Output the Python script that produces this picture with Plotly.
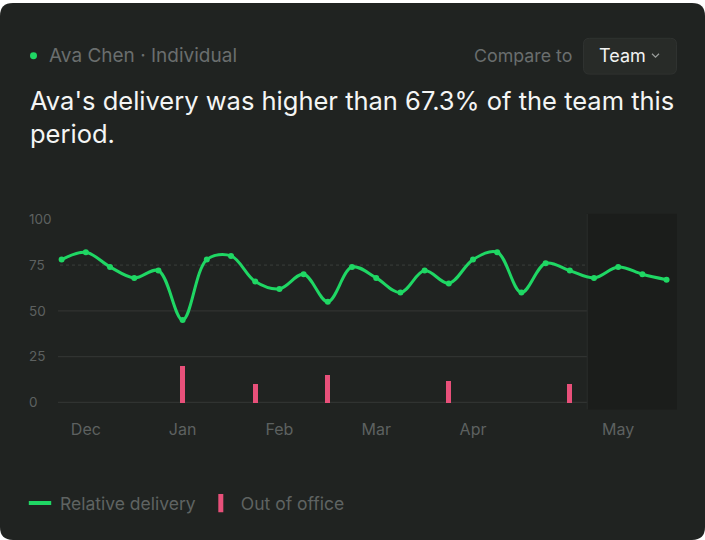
import plotly.graph_objects as go

W, H = 705, 540

# weekly relative delivery (index 0..25) and out-of-office days
week_idx = list(range(26))
delivery = [78, 82, 74, 68, 72, 45, 78, 80, 66, 62, 70, 55, 74,
            68, 60, 72, 65, 78, 82, 60, 76, 72, 68, 74, 70, 67]
ooo_idx = [5, 8, 11, 16, 21]
ooo_vals = [20, 10, 15, 12, 10]
month_idx = [1, 5, 9, 13, 17, 23]
month_labels = ["Dec", "Jan", "Feb", "Mar", "Apr", "May"]
y_ticks = [0, 25, 50, 75, 100]
solid_grid = [0, 25, 50]
dotted_grid = [75]
current_start = 21.72  # start of the shaded (in progress) period

GREEN = "#1fd764"
PINK = "#e8507a"
BG = "#202321"
GREY = "#5d6160"


def px(x):
    return x / W


def py(y):
    return 1 - y / H


def rounded_rect(x0, y0, x1, y1, r):
    # pixel coords (top-left origin) -> paper path
    X0, X1 = px(x0), px(x1)
    Y0, Y1 = py(y0), py(y1)
    rx, ry = r / W, r / H
    return (f"M{X0 + rx},{Y0} L{X1 - rx},{Y0} Q{X1},{Y0} {X1},{Y0 - ry} "
            f"L{X1},{Y1 + ry} Q{X1},{Y1} {X1 - rx},{Y1} L{X0 + rx},{Y1} "
            f"Q{X0},{Y1} {X0},{Y1 + ry} L{X0},{Y0 - ry} Q{X0},{Y0} {X0 + rx},{Y0} Z")


def main():
    fig = go.Figure()

    fig.add_trace(go.Bar(
        x=ooo_idx, y=ooo_vals, width=0.21,
        marker=dict(color=PINK, line=dict(width=0), cornerradius=2),
        showlegend=False, hoverinfo="skip"
    ))
    fig.add_trace(go.Scatter(
        x=week_idx, y=delivery, mode="lines+markers",
        line=dict(color=GREEN, width=3, shape="spline", smoothing=1.0),
        marker=dict(color=GREEN, size=6),
        showlegend=False
    ))
    # legend entries
    fig.add_trace(go.Scatter(
        x=[None], y=[None], mode="markers", name="Relative delivery",
        marker=dict(symbol="line-ew", size=21, color=GREEN,
                    line=dict(color=GREEN, width=4))
    ))
    fig.add_trace(go.Scatter(
        x=[None], y=[None], mode="markers", name="Out of office",
        marker=dict(symbol="line-ns", size=13, color=PINK,
                    line=dict(color=PINK, width=5))
    ))

    shapes = [
        # card
        dict(type="path", xref="paper", yref="paper", layer="below",
             path=rounded_rect(0, 0, W, H, 13), fillcolor=BG, line=dict(width=0)),
        # shaded current period
        dict(type="rect", xref="x", yref="y", layer="below",
             x0=current_start, x1=25.43, y0=-4, y1=103,
             fillcolor="#1b1d1b", line=dict(width=0)),
        dict(type="line", xref="x", yref="y", layer="below",
             x0=current_start, x1=current_start, y0=-4, y1=103,
             line=dict(color="#2a2d2b", width=1)),
        # compare button
        dict(type="path", xref="paper", yref="paper",
             path=rounded_rect(583.5, 35.5, 676.5, 71.5, 6),
             fillcolor="#282b28", line=dict(color="#2f3230", width=1)),
        dict(type="path", xref="paper", yref="paper",
             path=f"M{px(652)},{py(51)} L{px(655.5)},{py(54.5)} L{px(659)},{py(51)}",
             line=dict(color="#9a9d9b", width=1.2)),
        # status dot
        dict(type="circle", xref="paper", yref="paper",
             x0=px(30), x1=px(37), y0=py(49.5), y1=py(56.5),
             fillcolor=GREEN, line=dict(width=0)),
    ]
    for g in solid_grid:
        shapes.append(dict(type="line", xref="paper", yref="y", layer="below",
                           x0=px(58), x1=px(677), y0=g, y1=g,
                           line=dict(color="#303331", width=1.3)))
    for g in dotted_grid:
        shapes.append(dict(type="line", xref="paper", yref="y", layer="below",
                           x0=px(60), x1=px(677), y0=g, y1=g,
                           line=dict(color="#3b3e3c", width=1, dash="dot")))

    annotations = [
        dict(text="Ava Chen · Individual", x=px(47), y=py(53), xanchor="left",
             yanchor="middle", font=dict(size=19, color="#6a6e6e")),
        dict(text="Compare to", x=px(574), y=py(53), xanchor="right",
             yanchor="middle", font=dict(size=17.8, color="#6a6e6e")),
        dict(text="Team", x=px(597), y=py(53), xanchor="left",
             yanchor="middle", font=dict(size=18, color="#f2f3f2")),
        dict(text="Ava's delivery was higher than 67.3% of the team this<br>period.",
             x=px(28), y=py(115), xanchor="left", yanchor="middle", align="left",
             font=dict(size=25.5, color="#f4f5f4")),
    ]
    for a in annotations:
        a.update(xref="paper", yref="paper", showarrow=False)

    fig.update_layout(
        width=W, height=H,
        margin=dict(l=0, r=0, t=0, b=0),
        paper_bgcolor="white",
        plot_bgcolor="rgba(0,0,0,0)",
        font=dict(family="Inter", color=GREY),
        bargap=0,
        shapes=shapes,
        annotations=annotations,
        xaxis=dict(
            domain=[px(58), px(677)], range=[-0.15, 25.43],
            tickvals=month_idx, ticktext=month_labels,
            showgrid=False, zeroline=False, showline=False, ticks="",
            ticklabelstandoff=8, tickfont=dict(size=16, color=GREY)
        ),
        yaxis=dict(
            domain=[py(409), py(212)], range=[-4, 103],
            tickvals=y_ticks, showgrid=False, zeroline=False, showline=False,
            ticks="", side="right", anchor="free", position=px(28),
            tickfont=dict(size=13.5, color=GREY)
        ),
        legend=dict(
            orientation="h", x=px(20), y=py(503), xanchor="left", yanchor="middle",
            font=dict(size=17.5, color="#5f6362"), bgcolor="rgba(0,0,0,0)",
            itemwidth=30, tracegroupgap=0
        ),
    )

    fig.write_html("out.html", config=dict(displayModeBar=False),
                   post_script="document.body.style.margin='0';")


if __name__ == '__main__':
    main()
